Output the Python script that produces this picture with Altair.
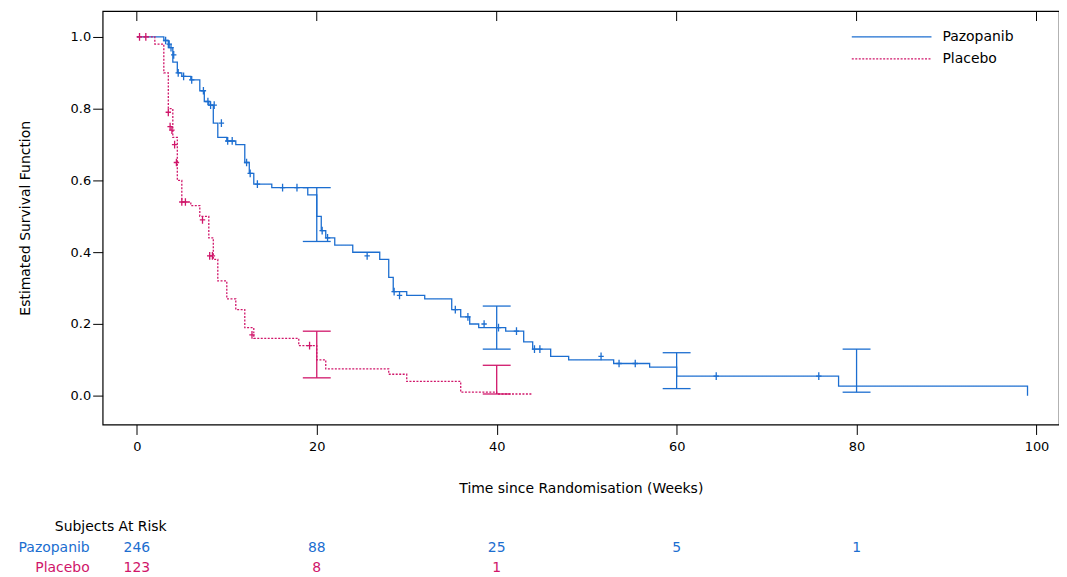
import altair as alt
import pandas as pd

BLUE = "#1c6ed0"
PINK = "#d0166a"
FONT = "DejaVu Sans"

paz_t = [0, 3, 3.5, 4, 4.5, 5, 6, 7, 7.5, 8, 8.5, 9, 10, 11, 12, 12.5, 13, 15, 19, 20, 20.5, 21, 22, 24, 27, 28, 28.5, 30, 32, 35, 36, 37, 38, 41, 43, 44, 46, 48, 53, 57, 60, 78, 99, 99]
paz_s = [1.0, 0.99, 0.97, 0.93, 0.90, 0.89, 0.88, 0.85, 0.82, 0.81, 0.76, 0.72, 0.71, 0.70, 0.65, 0.62, 0.59, 0.58, 0.56, 0.50, 0.46, 0.44, 0.42, 0.40, 0.38, 0.33, 0.29, 0.28, 0.27, 0.24, 0.22, 0.20, 0.19, 0.18, 0.15, 0.13, 0.11, 0.10, 0.09, 0.08, 0.055, 0.027, 0.027, 0.0]
paz_cens_t = [3.2, 3.6, 3.8, 4.1, 4.6, 5.2, 6.1, 7.4, 7.9, 8.2, 8.6, 9.4, 10.1, 10.6, 12.2, 12.6, 13.4, 16.2, 17.8, 20.6, 21.2, 25.6, 28.6, 29.2, 35.4, 36.8, 38.6, 40.2, 42.2, 44.2, 44.8, 51.6, 53.6, 55.4, 64.4, 75.8]
paz_cens_s = [0.99, 0.98, 0.97, 0.95, 0.90, 0.89, 0.88, 0.85, 0.82, 0.81, 0.81, 0.76, 0.71, 0.71, 0.65, 0.62, 0.59, 0.58, 0.58, 0.46, 0.44, 0.39, 0.29, 0.28, 0.24, 0.22, 0.20, 0.19, 0.18, 0.13, 0.13, 0.11, 0.09, 0.09, 0.055, 0.055]

pla_t = [0, 2, 3, 3.5, 4, 4.5, 5, 6, 7, 8, 8.5, 9, 10, 11, 12, 13, 18, 20, 21, 28, 30, 36, 40, 44]
pla_s = [1.0, 0.98, 0.90, 0.80, 0.72, 0.60, 0.54, 0.53, 0.50, 0.44, 0.38, 0.32, 0.27, 0.24, 0.19, 0.16, 0.14, 0.10, 0.075, 0.06, 0.04, 0.01, 0.005, 0.005]
pla_cens_t = [0.3, 1.0, 3.5, 3.7, 3.9, 4.2, 4.4, 5.0, 5.4, 7.3, 8.1, 8.4, 12.8, 19.2]
pla_cens_s = [1.0, 1.0, 0.79, 0.75, 0.74, 0.70, 0.65, 0.54, 0.54, 0.49, 0.39, 0.39, 0.17, 0.14]

ci_group = ["Pazopanib", "Pazopanib", "Pazopanib", "Pazopanib", "Placebo", "Placebo"]
ci_t = [20, 40, 60, 80, 20, 40]
ci_lo = [0.43, 0.13, 0.02, 0.01, 0.05, 0.005]
ci_hi = [0.58, 0.25, 0.12, 0.13, 0.18, 0.085]

risk_t = [0, 20, 40, 60, 80]
risk_paz = ["246", "88", "25", "5", "1"]
risk_pla = ["123", "8", "1", "", ""]

xs = alt.Scale(domain=[-3.8, 102.5], nice=False, zero=False)
ys = alt.Scale(domain=[-0.08, 1.072], nice=False, zero=False)
cols = alt.Scale(domain=["Pazopanib", "Placebo"], range=[BLUE, PINK])
dashes = alt.Scale(domain=["Pazopanib", "Placebo"], range=[[1, 0], [2, 1.5]])

curve = pd.concat([
    pd.DataFrame({"t": paz_t, "s": paz_s, "g": "Pazopanib"}),
    pd.DataFrame({"t": pla_t, "s": pla_s, "g": "Placebo"}),
])
cens = pd.concat([
    pd.DataFrame({"t": paz_cens_t, "s": paz_cens_s, "g": "Pazopanib"}),
    pd.DataFrame({"t": pla_cens_t, "s": pla_cens_s, "g": "Placebo"}),
])
ci = pd.DataFrame({"g": ci_group, "t": ci_t, "lo": ci_lo, "hi": ci_hi})

base_x = alt.X("t:Q", scale=xs, title="Time since Randomisation (Weeks)",
               axis=alt.Axis(values=[0, 20, 40, 60, 80, 100], tickSize=10, titlePadding=28,
                             labelPadding=6, grid=False))
base_y = alt.Y("s:Q", scale=ys, title="Estimated Survival Function",
               axis=alt.Axis(values=[0, 0.2, 0.4, 0.6, 0.8, 1.0], format=".1f", tickSize=10,
                             titlePadding=38, grid=False))
color = alt.Color("g:N", scale=cols, legend=None)

lines = alt.Chart(curve).mark_line(interpolate="step-after", strokeWidth=1.3).encode(
    x=base_x, y=base_y, color=color,
    strokeDash=alt.StrokeDash("g:N", scale=dashes, legend=None),
)

plus = alt.Chart(cens).mark_point(
    shape="M0,-1L0,1M-0.7,0L0.7,0", size=60, strokeWidth=1.3, filled=False, opacity=1
).encode(x=alt.X("t:Q", scale=xs), y=alt.Y("s:Q", scale=ys), color=color)

ci_rule = alt.Chart(ci).mark_rule(strokeWidth=1.3).encode(
    x=alt.X("t:Q", scale=xs), y=alt.Y("lo:Q", scale=ys), y2="hi:Q", color=color)
ci_lo_cap = alt.Chart(ci).mark_tick(orient="horizontal", size=28, thickness=1.3, opacity=1).encode(
    x=alt.X("t:Q", scale=xs), y=alt.Y("lo:Q", scale=ys), color=color)
ci_hi_cap = alt.Chart(ci).mark_tick(orient="horizontal", size=28, thickness=1.3, opacity=1).encode(
    x=alt.X("t:Q", scale=xs), y=alt.Y("hi:Q", scale=ys), color=color)

top_ticks = alt.Chart(pd.DataFrame({"t": risk_t + [100]})).mark_rule(color="black").encode(
    x=alt.X("t:Q", scale=xs), y=alt.value(0), y2=alt.value(10))

leg = pd.DataFrame({"g": ["Pazopanib", "Placebo"], "yp": [26, 48]})
leg_line = alt.Chart(leg).mark_rule(strokeWidth=1.3).encode(
    x=alt.value(752), x2=alt.value(832), y=alt.Y("yp:Q", scale=None), color=color,
    strokeDash=alt.StrokeDash("g:N", scale=dashes, legend=None))
leg_text = alt.Chart(leg).mark_text(align="left", baseline="middle", fontSize=14, color="black").encode(
    x=alt.value(843), y=alt.Y("yp:Q", scale=None), text="g:N")

risk = pd.concat([
    pd.DataFrame({"t": risk_t, "n": risk_paz, "g": "Pazopanib", "yp": 539}),
    pd.DataFrame({"t": risk_t, "n": risk_pla, "g": "Placebo", "yp": 559}),
])
risk_num = alt.Chart(risk).mark_text(fontSize=14, baseline="middle", clip=False).encode(
    x=alt.X("t:Q", scale=xs), y=alt.Y("yp:Q", scale=None), text="n:N", color=color)
names = pd.DataFrame({"g": ["Pazopanib", "Placebo"], "yp": [539, 559]})
risk_names = alt.Chart(names).mark_text(fontSize=14, align="right", baseline="middle").encode(
    x=alt.value(-13), y=alt.Y("yp:Q", scale=None), text="g:N", color=color)
risk_title = alt.Chart(pd.DataFrame({"l": ["Subjects At Risk"]})).mark_text(
    fontSize=14, align="left", baseline="middle", color="black").encode(
    x=alt.value(-48), y=alt.value(518), text="l:N")

chart = alt.layer(
    lines, plus, ci_rule, ci_lo_cap, ci_hi_cap, top_ticks, leg_line, leg_text,
    risk_num, risk_names, risk_title
).properties(
    width=960, height=415,
    autosize=alt.AutoSizeParams(type="none"),
    padding={"left": 95, "top": 2, "right": 0, "bottom": 150},
).configure_view(stroke="black", strokeWidth=1.2).configure_axis(
    labelFont=FONT, titleFont=FONT, labelFontSize=13,
    titleFontSize=14, titleFontWeight="normal", labelColor="black", titleColor="black",
    domain=False, tickColor="black",
).configure_text(font=FONT)

chart.save("out.html", embed_options={"renderer": "svg", "actions": False})
